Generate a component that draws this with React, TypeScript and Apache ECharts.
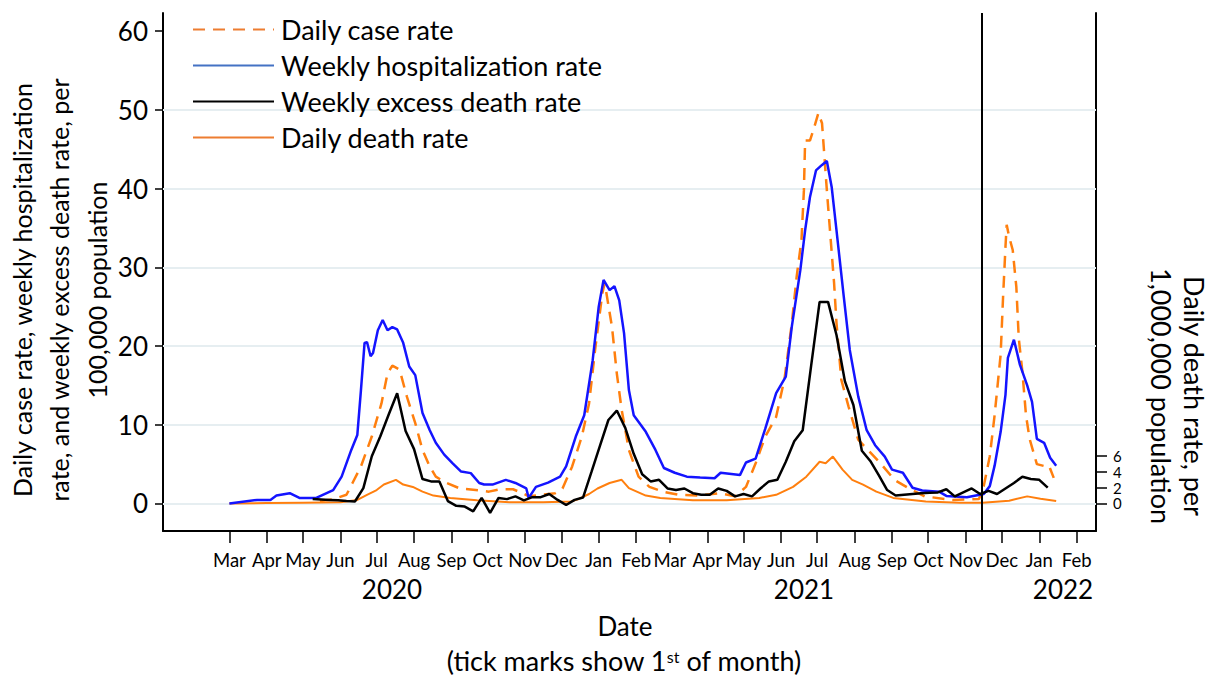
import React, { useEffect, useRef } from 'react';
import * as echarts from 'echarts';

// ---------- data ----------
const caseRate: [string, number][] = [
  ['2020-05-15', 0.3], ['2020-05-25', 0.5], ['2020-06-06', 1.1], ['2020-06-11', 2.6], ['2020-06-18', 4.7],
  ['2020-06-27', 8.5], ['2020-07-05', 12.7], ['2020-07-10', 16.5], ['2020-07-14', 17.5], ['2020-07-20', 17.0],
  ['2020-07-26', 13.6], ['2020-08-02', 10.2], ['2020-08-08', 6.8], ['2020-08-14', 4.7], ['2020-08-19', 3.4],
  ['2020-08-28', 2.6], ['2020-09-08', 1.9], ['2020-09-21', 1.7], ['2020-10-02', 1.5], ['2020-10-11', 1.8],
  ['2020-10-22', 1.8], ['2020-10-30', 1.3], ['2020-11-04', 0.9], ['2020-11-15', 1.1], ['2020-11-26', 1.3],
  ['2020-12-02', 1.9], ['2020-12-10', 4.7], ['2020-12-18', 8.5], ['2020-12-24', 12.7], ['2020-12-29', 19.5],
  ['2021-01-04', 26.7], ['2021-01-06', 28.0], ['2021-01-12', 22.4], ['2021-01-16', 16.5], ['2021-01-20', 11.9],
  ['2021-01-26', 6.8], ['2021-02-03', 3.4], ['2021-02-12', 2.1], ['2021-02-23', 1.5], ['2021-03-08', 1.1],
  ['2021-03-25', 1.0], ['2021-04-11', 1.3], ['2021-04-24', 0.9], ['2021-05-03', 2.1], ['2021-05-11', 5.1],
  ['2021-05-19', 8.5], ['2021-05-28', 11.0], ['2021-06-04', 15.9], ['2021-06-10', 22.9], ['2021-06-14', 28.8],
  ['2021-06-18', 33.5], ['2021-06-20', 39.8], ['2021-06-21', 46.1], ['2021-06-25', 46.1], ['2021-06-28', 47.5],
  ['2021-07-02', 49.6], ['2021-07-05', 48.3], ['2021-07-09', 39.8], ['2021-07-12', 33.9], ['2021-07-15', 28.0],
  ['2021-07-17', 22.9], ['2021-07-21', 15.7], ['2021-07-27', 12.3], ['2021-08-04', 8.1], ['2021-08-12', 6.8],
  ['2021-08-23', 5.0], ['2021-09-03', 3.0], ['2021-09-14', 2.0], ['2021-09-28', 0.9], ['2021-10-21', 0.45],
  ['2021-11-12', 0.55], ['2021-11-16', 2.2], ['2021-11-21', 6.0], ['2021-11-25', 11.2], ['2021-11-30', 18.9],
  ['2021-12-02', 26.2], ['2021-12-04', 32.6], ['2021-12-05', 35.4], ['2021-12-07', 33.9], ['2021-12-10', 32.2],
  ['2021-12-13', 27.5], ['2021-12-15', 21.0], ['2021-12-18', 16.75], ['2021-12-21', 11.2], ['2021-12-24', 8.2],
  ['2021-12-30', 5.0], ['2022-01-05', 4.75], ['2022-01-09', 4.8], ['2022-01-13', 3.25],
];

const hospRate: [string, number][] = [
  ['2020-03-01', 0.0], ['2020-03-24', 0.45], ['2020-04-04', 0.45], ['2020-04-09', 1.0], ['2020-04-20', 1.3],
  ['2020-04-28', 0.7], ['2020-05-12', 0.7], ['2020-05-26', 1.7], ['2020-06-02', 3.4], ['2020-06-10', 6.8],
  ['2020-06-15', 8.7], ['2020-06-18', 14.4], ['2020-06-21', 20.4], ['2020-06-23', 20.5], ['2020-06-26', 18.7],
  ['2020-06-28', 19.1], ['2020-07-02', 22.0], ['2020-07-06', 23.3], ['2020-07-10', 22.0], ['2020-07-14', 22.4],
  ['2020-07-18', 22.1], ['2020-07-23', 20.4], ['2020-07-28', 17.4], ['2020-08-02', 16.3], ['2020-08-08', 11.5],
  ['2020-08-14', 9.3], ['2020-08-19', 7.7], ['2020-08-26', 6.2], ['2020-09-02', 5.1], ['2020-09-09', 4.05],
  ['2020-09-17', 3.85], ['2020-09-24', 2.6], ['2020-09-28', 2.4], ['2020-10-05', 2.4], ['2020-10-16', 3.0],
  ['2020-10-24', 2.6], ['2020-11-02', 1.9], ['2020-11-04', 0.7], ['2020-11-10', 2.1], ['2020-11-20', 2.65],
  ['2020-11-30', 3.4], ['2020-12-05', 4.7], ['2020-12-13', 8.5], ['2020-12-20', 11.2], ['2020-12-27', 18.2],
  ['2021-01-01', 25.0], ['2021-01-05', 28.4], ['2021-01-10', 27.1], ['2021-01-14', 27.6], ['2021-01-18', 25.8],
  ['2021-01-22', 21.6], ['2021-01-26', 14.4], ['2021-01-30', 11.2], ['2021-02-09', 9.1], ['2021-02-17', 6.8],
  ['2021-02-24', 4.5], ['2021-03-05', 3.9], ['2021-03-15', 3.4], ['2021-03-26', 3.3], ['2021-04-07', 3.2],
  ['2021-04-12', 3.9], ['2021-04-28', 3.6], ['2021-05-03', 5.2], ['2021-05-11', 5.7], ['2021-05-19', 9.5],
  ['2021-05-28', 14.0], ['2021-06-05', 16.1], ['2021-06-10', 22.5], ['2021-06-17', 29.6], ['2021-06-21', 34.7],
  ['2021-06-25', 38.9], ['2021-06-30', 42.3], ['2021-07-05', 43.0], ['2021-07-09', 43.5], ['2021-07-13', 40.2],
  ['2021-07-17', 34.7], ['2021-07-23', 26.3], ['2021-07-28', 19.5], ['2021-08-04', 13.6], ['2021-08-11', 9.3],
  ['2021-08-18', 7.4], ['2021-08-26', 5.95], ['2021-09-01', 4.3], ['2021-09-10', 3.9], ['2021-09-18', 2.0],
  ['2021-09-26', 1.65], ['2021-10-10', 1.5], ['2021-10-16', 0.96], ['2021-11-02', 0.8], ['2021-11-16', 1.2],
  ['2021-11-21', 2.2], ['2021-11-25', 4.8], ['2021-11-30', 9.1], ['2021-12-04', 13.8], ['2021-12-06', 18.5],
  ['2021-12-11', 20.8], ['2021-12-16', 17.6], ['2021-12-22', 15.0], ['2021-12-26', 12.9], ['2021-12-30', 8.2],
  ['2022-01-05', 7.7], ['2022-01-10', 5.8], ['2022-01-15', 4.8],
];

const excessDeathRate: [string, number][] = [
  ['2020-05-09', 0.55], ['2020-05-16', 0.5], ['2020-05-23', 0.45], ['2020-05-30', 0.4], ['2020-06-06', 0.3],
  ['2020-06-13', 0.25], ['2020-06-20', 1.95], ['2020-06-27', 6.0], ['2020-07-04', 8.5], ['2020-07-11', 11.3],
  ['2020-07-18', 14.0], ['2020-07-25', 9.2], ['2020-08-01', 6.9], ['2020-08-08', 3.1], ['2020-08-15', 2.8],
  ['2020-08-22', 2.8], ['2020-08-29', 0.3], ['2020-09-05', -0.3], ['2020-09-12', -0.4], ['2020-09-19', -1.0],
  ['2020-09-26', 0.7], ['2020-10-03', -1.2], ['2020-10-10', 0.7], ['2020-10-17', 0.55], ['2020-10-24', 0.9],
  ['2020-10-31', 0.4], ['2020-11-07', 0.8], ['2020-11-14', 0.8], ['2020-11-21', 1.2], ['2020-11-28', 0.45],
  ['2020-12-05', -0.2], ['2020-12-12', 0.45], ['2020-12-19', 0.75], ['2020-12-26', 4.0], ['2021-01-02', 7.3],
  ['2021-01-09', 10.6], ['2021-01-16', 11.8], ['2021-01-23', 9.6], ['2021-01-30', 6.3], ['2021-02-06', 3.7],
  ['2021-02-13', 2.8], ['2021-02-20', 3.0], ['2021-02-27', 1.9], ['2021-03-06', 1.7], ['2021-03-13', 1.9],
  ['2021-03-20', 1.3], ['2021-03-27', 1.1], ['2021-04-03', 1.1], ['2021-04-10', 1.9], ['2021-04-17', 1.6],
  ['2021-04-24', 0.9], ['2021-05-01', 1.2], ['2021-05-08', 0.9], ['2021-05-15', 1.9], ['2021-05-22', 2.8],
  ['2021-05-29', 3.0], ['2021-06-05', 5.3], ['2021-06-12', 7.9], ['2021-06-19', 9.3], ['2021-06-26', 17.5],
  ['2021-07-03', 25.6], ['2021-07-10', 25.6], ['2021-07-17', 21.4], ['2021-07-24', 15.5], ['2021-07-31', 12.5],
  ['2021-08-07', 6.7], ['2021-08-14', 5.4], ['2021-08-21', 3.6], ['2021-08-28', 1.7], ['2021-09-04', 1.0],
  ['2021-09-11', 1.1], ['2021-09-18', 1.2], ['2021-09-25', 1.3], ['2021-10-02', 1.35], ['2021-10-09', 1.4],
  ['2021-10-16', 1.8], ['2021-10-23', 0.9], ['2021-10-30', 1.4], ['2021-11-06', 1.9], ['2021-11-13', 1.2],
  ['2021-11-20', 1.6], ['2021-11-27', 1.2], ['2021-12-04', 1.9], ['2021-12-11', 2.6], ['2021-12-18', 3.4],
  ['2021-12-25', 3.1], ['2022-01-01', 3.0], ['2022-01-08', 2.0],
];

const dailyDeathRate: [string, number][] = [
  ['2020-03-01', 0.0], ['2020-04-01', 0.05], ['2020-05-01', 0.1], ['2020-06-01', 0.15], ['2020-06-15', 0.45],
  ['2020-06-23', 1.1], ['2020-07-01', 1.7], ['2020-07-07', 2.4], ['2020-07-17', 3.0], ['2020-07-23', 2.4],
  ['2020-07-31', 2.1], ['2020-08-08', 1.5], ['2020-08-17', 1.0], ['2020-08-31', 0.7], ['2020-09-22', 0.4],
  ['2020-10-19', 0.15], ['2020-11-16', 0.15], ['2020-12-09', 0.25], ['2020-12-16', 0.6], ['2020-12-24', 1.2],
  ['2020-12-31', 1.9], ['2021-01-10', 2.6], ['2021-01-20', 3.0], ['2021-01-26', 1.95], ['2021-02-09', 1.0],
  ['2021-02-21', 0.7], ['2021-03-20', 0.4], ['2021-04-17', 0.4], ['2021-05-14', 0.7], ['2021-05-28', 1.1],
  ['2021-06-11', 2.1], ['2021-06-22', 3.4], ['2021-07-03', 5.3], ['2021-07-08', 5.1], ['2021-07-14', 5.95],
  ['2021-07-22', 4.3], ['2021-07-30', 3.0], ['2021-08-08', 2.4], ['2021-08-19', 1.5], ['2021-09-02', 0.7],
  ['2021-09-29', 0.25], ['2021-10-27', 0.1], ['2021-11-15', 0.1], ['2021-12-07', 0.35], ['2021-12-22', 0.9],
  ['2022-01-02', 0.6], ['2022-01-15', 0.3],
];

const monthNames = ['Jan', 'Feb', 'Mar', 'Apr', 'May', 'Jun', 'Jul', 'Aug', 'Sep', 'Oct', 'Nov', 'Dec'];
const tickMonths = [
  '2020-03-01', '2020-04-01', '2020-05-01', '2020-06-01', '2020-07-01', '2020-08-01', '2020-09-01',
  '2020-10-01', '2020-11-01', '2020-12-01', '2021-01-01', '2021-02-01', '2021-03-01', '2021-04-01',
  '2021-05-01', '2021-06-01', '2021-07-01', '2021-08-01', '2021-09-01', '2021-10-01', '2021-11-01',
  '2021-12-01', '2022-01-01', '2022-02-01',
];
const yearLabels = ['2020', '2021', '2022'];
const leftTicks = [0, 10, 20, 30, 40, 50, 60];
const rightTicks = [0, 2, 4, 6];
const gridValues = [0, 10, 20, 30, 40, 50];
const cutoffDate = '2021-11-14';
const xStart = '2020-01-06';
const xEnd = '2022-02-17';
const yMin = -3.5;
const yMax = 62.3;

const seriesNames = ['Daily case rate', 'Weekly hospitalization rate', 'Weekly excess death rate', 'Daily death rate'];

const ts = (s: string) => {
  const [y, m, d] = s.split('-').map(Number);
  return new Date(y, m - 1, d).getTime();
};
const toXY = (arr: [string, number][]) => arr.map(([d, v]) => [ts(d), v]);

const FONT = 'Lato, "Noto Sans", sans-serif';
const yearX = [392, 804, 1063];

export default function App() {
  const ref = useRef<HTMLDivElement>(null);
  useEffect(() => {
    if (!ref.current) return;
    const chart = echarts.init(ref.current, undefined, { renderer: 'svg' });
    const tickTs = tickMonths.map(ts);
    const option: any = {
      animation: false,
      backgroundColor: '#fff',
      textStyle: { fontFamily: FONT, color: '#000' },
      grid: { left: 163, right: 117, top: 13, bottom: 144, containLabel: false },
      legend: {
        orient: 'vertical',
        left: 187,
        top: 11,
        itemWidth: 81,
        itemHeight: 14,
        itemGap: 9,
        selectedMode: false,
        itemStyle: { opacity: 0 },
        textStyle: { fontFamily: FONT, fontSize: 27, color: '#000', padding: [0, 0, 0, 2] },
        data: [
          { name: seriesNames[0], lineStyle: { color: '#ed7d31' } },
          { name: seriesNames[1], lineStyle: { color: '#4472c4' } },
          { name: seriesNames[2] },
          { name: seriesNames[3], lineStyle: { color: '#ed7d31' } },
        ],
      },
      xAxis: {
        type: 'value',
        min: ts(xStart),
        max: ts(xEnd),
        axisLine: { show: true, onZero: false, lineStyle: { color: '#000', width: 2 } },
        axisTick: { show: true, customValues: tickTs, length: 12, lineStyle: { color: '#000', width: 1.5 } },
        axisLabel: {
          customValues: tickTs,
          formatter: (v: number) => monthNames[new Date(v).getMonth()],
          fontFamily: FONT,
          fontSize: 18.5,
          color: '#000',
          margin: 19,
          showMinLabel: true,
          showMaxLabel: true,
        },
        splitLine: { show: false },
      },
      yAxis: [
        {
          type: 'value',
          min: yMin,
          max: yMax,
          position: 'left',
          axisLine: { show: true, onZero: false, lineStyle: { color: '#000', width: 2 } },
          axisTick: { show: true, customValues: leftTicks, length: 8, lineStyle: { color: '#000', width: 1.5 } },
          axisLabel: {
            customValues: leftTicks, fontFamily: FONT, fontSize: 26, color: '#000', margin: 15,
            showMinLabel: true, showMaxLabel: true,
          },
          splitLine: { show: false },
        },
        {
          type: 'value',
          min: yMin,
          max: yMax,
          position: 'right',
          axisLine: { show: true, onZero: false, lineStyle: { color: '#000', width: 2 } },
          axisTick: { show: true, customValues: rightTicks, length: 11, lineStyle: { color: '#000', width: 1.5 } },
          axisLabel: {
            customValues: rightTicks, fontFamily: FONT, fontSize: 15, lineHeight: 15, color: '#000', margin: 17,
            showMinLabel: true, showMaxLabel: true,
          },
          splitLine: { show: false },
        },
      ],
      series: [
        {
          name: seriesNames[3],
          type: 'line',
          yAxisIndex: 1,
          data: toXY(dailyDeathRate),
          symbol: 'none',
          z: 2,
          lineStyle: { color: '#ff7f0e', width: 2 },
          itemStyle: { color: '#ff7f0e' },
          markLine: {
            silent: true,
            symbol: ['none', 'none'],
            label: { show: false },
            z: 1,
            lineStyle: { color: '#e6eef1', width: 2, type: 'solid' },
            data: gridValues.map((v) => ({ yAxis: v })),
          },
        },
        {
          name: seriesNames[0],
          type: 'line',
          data: toXY(caseRate),
          symbol: 'none',
          z: 3,
          lineStyle: { color: '#ff7f0e', width: 2.5, type: [12, 8] },
          itemStyle: { color: '#ff7f0e' },
        },
        {
          name: seriesNames[1],
          type: 'line',
          data: toXY(hospRate),
          symbol: 'none',
          z: 4,
          lineStyle: { color: '#1414ff', width: 2.5 },
          itemStyle: { color: '#1414ff' },
        },
        {
          name: seriesNames[2],
          type: 'line',
          data: toXY(excessDeathRate),
          symbol: 'none',
          z: 5,
          lineStyle: { color: '#000', width: 2.5 },
          itemStyle: { color: '#000' },
          markLine: {
            silent: true,
            symbol: ['none', 'none'],
            label: { show: false },
            lineStyle: { color: '#000', width: 2, type: 'solid' },
            data: [{ xAxis: ts(cutoffDate) }],
          },
        },
      ],
      graphic: [
        {
          type: 'text',
          x: 59,
          y: 290,
          rotation: Math.PI / 2,
          style: {
            text: 'Daily case rate, weekly hospitalization\nrate, and weekly excess death rate, per\n100,000 population',
            fontFamily: FONT,
            fontSize: 25,
            lineHeight: 37.5,
            fill: '#000',
            align: 'center',
            verticalAlign: 'middle',
          },
        },
        {
          type: 'text',
          x: 1178,
          y: 396,
          rotation: -Math.PI / 2,
          style: {
            text: 'Daily death rate, per\n1,000,000 population',
            fontFamily: FONT,
            fontSize: 27,
            lineHeight: 33,
            fill: '#000',
            align: 'center',
            verticalAlign: 'middle',
          },
        },
        ...yearLabels.map((t, i) => ({
          type: 'text', x: yearX[i], y: 589,
          style: { text: t, fontFamily: FONT, fontSize: 26, fill: '#000', align: 'center', verticalAlign: 'middle' },
        })),
        {
          type: 'text', x: 625, y: 626,
          style: { text: 'Date', fontFamily: FONT, fontSize: 26, fill: '#000', align: 'center', verticalAlign: 'middle' },
        },
        {
          type: 'text', x: 624, y: 660,
          style: {
            text: '(tick marks show 1{sup|st} of month)',
            fontFamily: FONT,
            fontSize: 27,
            lineHeight: 24,
            fill: '#000',
            align: 'center',
            verticalAlign: 'middle',
            rich: {
              sup: { fontFamily: FONT, fontSize: 16, verticalAlign: 'top', lineHeight: 24, padding: [0, 0, 8, 0], fill: '#000' },
            },
          },
        },
      ],
    };
    chart.setOption(option);
    return () => chart.dispose();
  }, []);
  return (
    <div
      ref={ref}
      style={{ position: 'absolute', left: 0, top: 0, width: 1213, height: 675, background: '#fff' }}
    />
  );
}
